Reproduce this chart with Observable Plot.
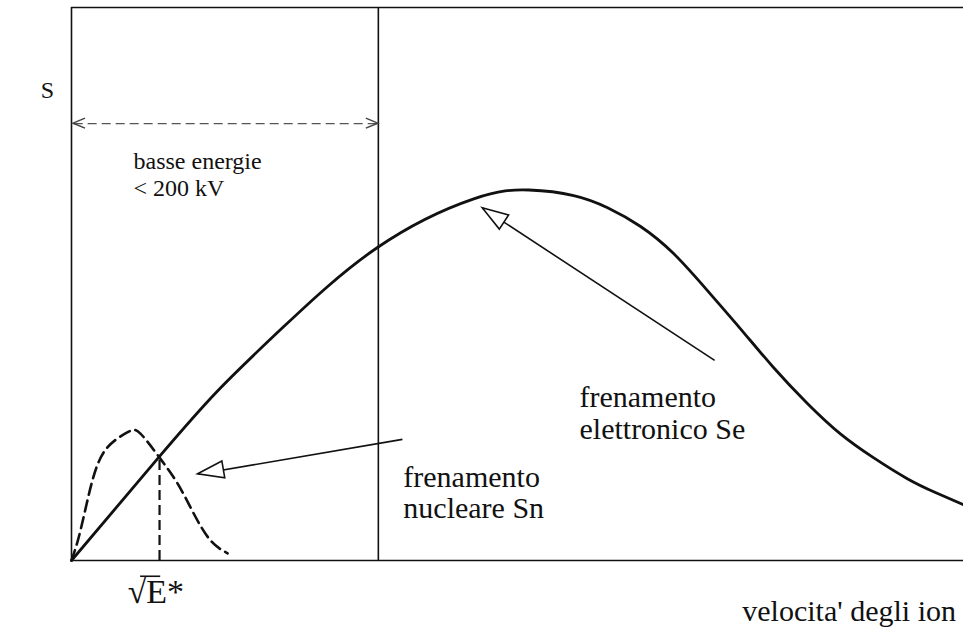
<!DOCTYPE html>
<html>
<head>
<meta charset="utf-8">
<script src="https://cdn.jsdelivr.net/npm/d3@7"></script>
<script src="https://cdn.jsdelivr.net/npm/@observablehq/plot@0.6"></script>
<style>
  html, body { margin: 0; padding: 0; background: #fff; }
  #chart svg { display: block; }
  #chart svg text, #chart svg tspan { font-family: "Liberation Serif", "Times New Roman", Times, "DejaVu Serif", serif !important; }
</style>
</head>
<body>
<div id="chart"></div>
<script>
// Electronic stopping Se (solid curve), arbitrary units: velocity 0..100, S 0..100
const seX = [0, 9.75, 16.4, 23.8, 34.3, 45.1, 51.3, 56.3, 60.1, 63.8, 67.5, 71.3, 75.0, 78.7, 82.5, 86.2, 89.9, 93.7, 96.85, 100];
const seY = [0, 18.6, 30.7, 42.3, 56.6, 65.4, 67.0, 66.0, 63.8, 60.4, 55.5, 48.8, 41.9, 34.9, 28.4, 22.9, 18.6, 14.8, 12.3, 10.1];
// Nuclear stopping Sn (dashed curve)
const snX = [0, 1.0, 2.35, 4.0, 6.3, 7.7, 9.87, 11.9, 13.7, 15.6, 17.5];
const snY = [0, 5.4, 14.5, 20.4, 23.2, 23.0, 18.6, 13.9, 8.5, 3.6, 1.3];

const eStar = 9.87;          // sqrt(E*) position
const eStarS = 18.6;         // S at crossing
const lowEnergyLimit = 34.4; // 200 kV boundary
const bandY = 79.0;          // double arrow height

// annotation arrows [x1, y1, x2, y2]
const arrowSe = [72.1, 36.2, 46.1, 63.7];
const arrowSn = [37.1, 21.9, 14.2, 15.6];

const labels = [
  {x: -2.7, y: 83.7, text: "S", size: 24, anchor: "middle", lh: 1},
  {x: 6.95, y: 66.0, text: "basse energie\n< 200 kV", size: 24, anchor: "start", lh: 1.12},
  {x: 56.95, y: 21.9, text: "frenamento\nelettronico Se", size: 30, anchor: "start", lh: 1.07},
  {x: 37.2, y: 7.6, text: "frenamento\nnucleare Sn", size: 30, anchor: "start", lh: 1.05},
  {x: 75.2, y: -10.85, text: "velocita' degli ion", size: 30, anchor: "start", lh: 1},
  {x: 6.3, y: -7.6, text: "√E*", size: 34, anchor: "start", lh: 1}
];
// vinculum of the square root over E
const vinculum = {x1: 7.75, x2: 10.0, y: -2.85};

const se = seX.map((x, i) => ({x, y: seY[i]}));
const sn = snX.map((x, i) => ({x, y: snY[i]}));

function heads(index, scales) {
  const g = d3.create("svg:g");
  // open triangle heads
  for (const a of [arrowSe, arrowSn]) {
    const x1 = scales.x(a[0]), y1 = scales.y(a[1]), x2 = scales.x(a[2]), y2 = scales.y(a[3]);
    const ang = Math.atan2(y2 - y1, x2 - x1);
    const L = 26, W = 8.5;
    const bx = x2 - L * Math.cos(ang), by = y2 - L * Math.sin(ang);
    const px = -Math.sin(ang) * W, py = Math.cos(ang) * W;
    g.append("path")
      .attr("d", `M${x2},${y2}L${bx + px},${by + py}L${bx - px},${by - py}Z`)
      .attr("fill", "white").attr("stroke", "#111").attr("stroke-width", 1.6)
      .attr("stroke-linejoin", "miter");
  }
  // chevrons on double arrow
  const yb = scales.y(bandY);
  for (const [xt, dir] of [[scales.x(0) + 2, -1], [scales.x(lowEnergyLimit), 1]]) {
    const L = 12, W = 5;
    g.append("path")
      .attr("d", `M${xt - dir * L},${yb - W}L${xt},${yb}L${xt - dir * L},${yb + W}`)
      .attr("fill", "none").attr("stroke", "#444").attr("stroke-width", 1.5);
  }
  return g.node();
}

const serif = "'Liberation Serif', 'Times New Roman', Times, 'DejaVu Serif', serif";

const chart = Plot.plot({
  width: 963,
  height: 628,
  marginLeft: 71,
  marginRight: 0,
  marginTop: 7,
  marginBottom: 68,
  x: {domain: [0, 100], axis: null},
  y: {domain: [0, 100], axis: null},
  style: {background: "white", fontFamily: serif},
  marks: [
    // frame
    Plot.ruleY([0, 100], {x1: 0, x2: 100, stroke: "#111", strokeWidth: 1.6}),
    Plot.ruleX([0, lowEnergyLimit], {y1: 0, y2: 100, stroke: "#111", strokeWidth: 1.6}),
    // low-energy band double arrow shaft
    Plot.ruleY([bandY], {x1: 0.3, x2: lowEnergyLimit, stroke: "#555", strokeWidth: 1.3, strokeDasharray: "9,5"}),
    // sqrt(E*) marker
    Plot.ruleX([eStar], {y1: 0, y2: eStarS, stroke: "#111", strokeWidth: 2.2, strokeDasharray: "10,5"}),
    // curves
    Plot.line(sn, {x: "x", y: "y", curve: "natural", stroke: "#111", strokeWidth: 2.6, strokeDasharray: "11,6"}),
    Plot.line(se, {x: "x", y: "y", curve: "natural", stroke: "#111", strokeWidth: 2.8}),
    // annotation arrow shafts
    Plot.link([arrowSe, arrowSn], {x1: d => d[0], y1: d => d[1], x2: d => d[2], y2: d => d[3], stroke: "#111", strokeWidth: 1.6}),
    heads,
    // labels
    ...labels.map(l => Plot.text([l], {
      x: "x", y: "y", text: "text", fontSize: l.size, textAnchor: l.anchor,
      lineAnchor: "bottom", lineHeight: l.lh, fill: "#111", fontFamily: serif
    })),
    Plot.ruleY([vinculum], {x1: "x1", x2: "x2", y: "y", stroke: "#111", strokeWidth: 1.6})
  ]
});
document.getElementById("chart").append(chart);
</script>
</body>
</html>
